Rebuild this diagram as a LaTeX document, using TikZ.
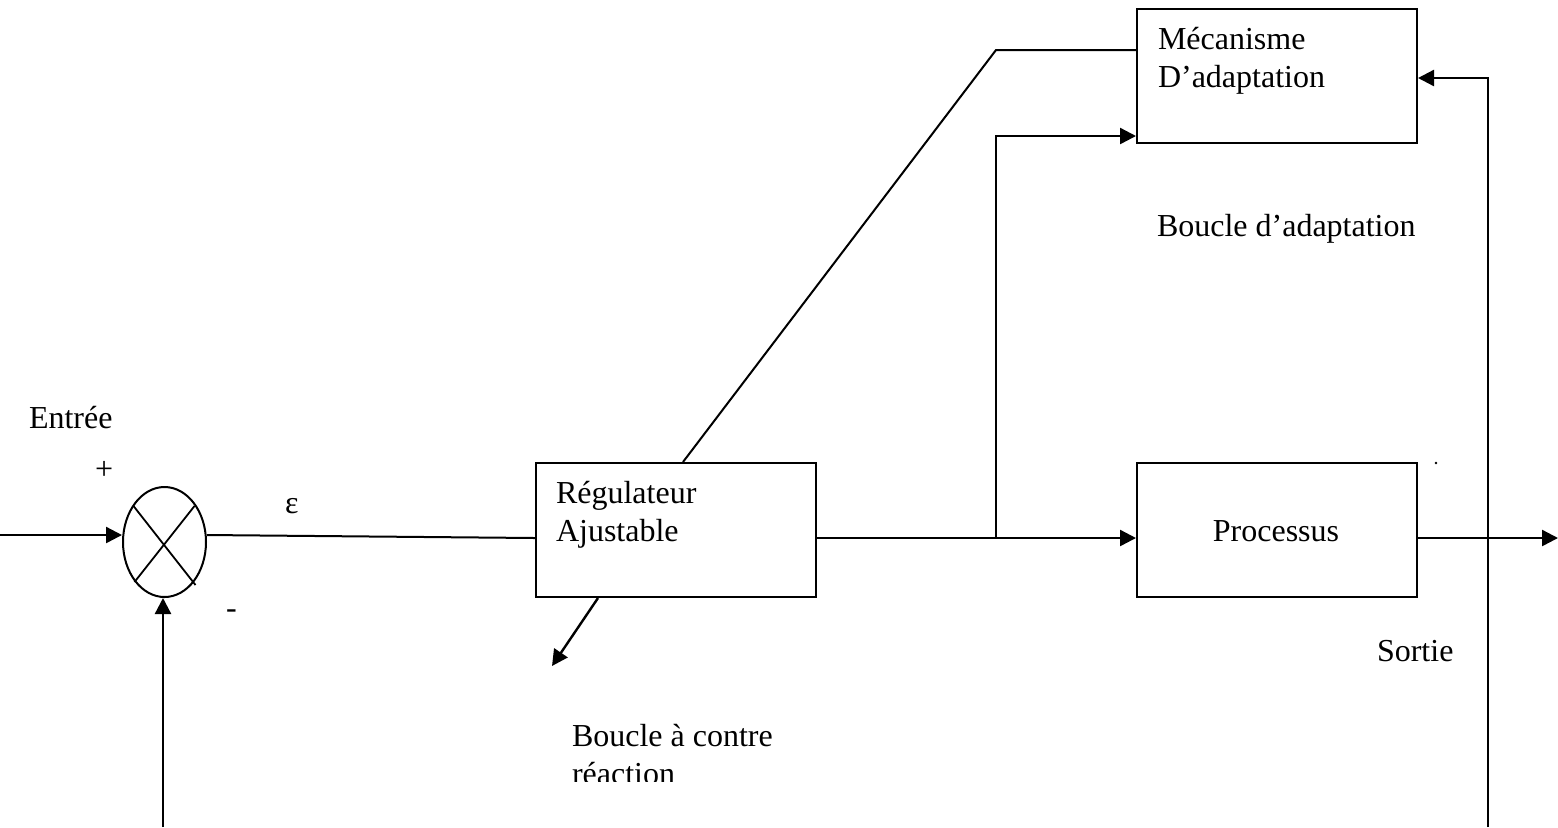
\documentclass[tikz,border=0pt]{standalone}
\usepackage{fontspec}
\setmainfont{Liberation Serif}
\usetikzlibrary{shapes.geometric,arrows.meta,calc}
\begin{document}
\begin{tikzpicture}[x=0.5pt,y=-0.5pt,
  font=\fontsize{16}{19}\selectfont,
  line width=1pt,
  wire/.style={line width=1.2pt},
  arr/.style={wire,-{Triangle[length=8pt,width=8pt]}},
  block/.style={draw,rectangle,minimum width=140pt,minimum height=67pt,inner sep=0pt},
  lbl/.style={anchor=base west,inner sep=0pt,outer sep=0pt},
  sumnode/.style={draw,ellipse,minimum width=41.5pt,minimum height=55pt,inner sep=0pt}]
\useasboundingbox (0,0) rectangle (1558,827);

% summing junction
\node[sumnode] (sum) at (164.5,542) {};
\draw[line width=0.9pt] ($(sum.center)+(-31,-36)$) -- ($(sum.center)+(31,43)$);
\draw[line width=0.9pt] ($(sum.center)+(30,-36)$) -- ($(sum.center)+(-30,40)$);

% blocks
\node[block] (reg)  at (676,530) {};
\node[block] (mec)  at (1277,76) {};
\node[block] (proc) at (1277,530) {};

% free ends
\coordinate (in)   at (0,535);
\coordinate (out)  at (1558,538);
\coordinate (j)    at (996,538);
\coordinate (bend) at (996,50);
\coordinate (fbl)  at (163,827);
\coordinate (fbr)  at (1488,827);
\coordinate (ret)  at (552,666);

% connectors
\draw[arr] (in) -- (sum.west |- in);
\draw (sum.east |- in) -- ([yshift=-4pt]reg.west);
\draw[arr] ([yshift=-4pt]reg.east) -- ([yshift=-4pt]proc.west);
\draw[arr] (j) |- ([yshift=-30pt]mec.west);
\draw ([xshift=3.5pt]reg.north) -- (bend) -- ([yshift=13pt]mec.west);
\draw[arr] ([xshift=-39pt]reg.south) -- (ret);
\draw[arr] ([yshift=-4pt]proc.east) -- (out);
\draw[arr] (fbr) |- ([yshift=-1pt]mec.east);
\draw[arr] (fbl) -- (fbl |- sum.south);

% block texts
\node[lbl] (t1) at (556,503) {Régulateur};
\node[lbl] (t2) at (556,541) {Ajustable};
\node[lbl] (t3) at (1158,49) {Mécanisme};
\node[lbl] (t4) at (1158,87) {D’adaptation};
\node[anchor=base,inner sep=0pt] (t5) at (1276,541) {Processus};

% labels
\node[lbl] (entree) at (29,428) {Entrée};
\node[lbl] (plus) at (95,479) {+};
\node[lbl] (minus) at (226,618) {-};
\node[lbl] (eps) at (285,513) {ε};
\node[lbl] (ba) at (1157,236) {Boucle d’adaptation};
\node[lbl] (so) at (1377,661) {Sortie};
\node[lbl] (bc) at (572,746) {Boucle à contre};
\begin{scope}
  \clip (500,700) rectangle (900,781);
  \node[lbl] (re) at (572,784) {réaction};
\end{scope}
\fill (1436,463) circle (0.7pt);
\end{tikzpicture}
\end{document}
